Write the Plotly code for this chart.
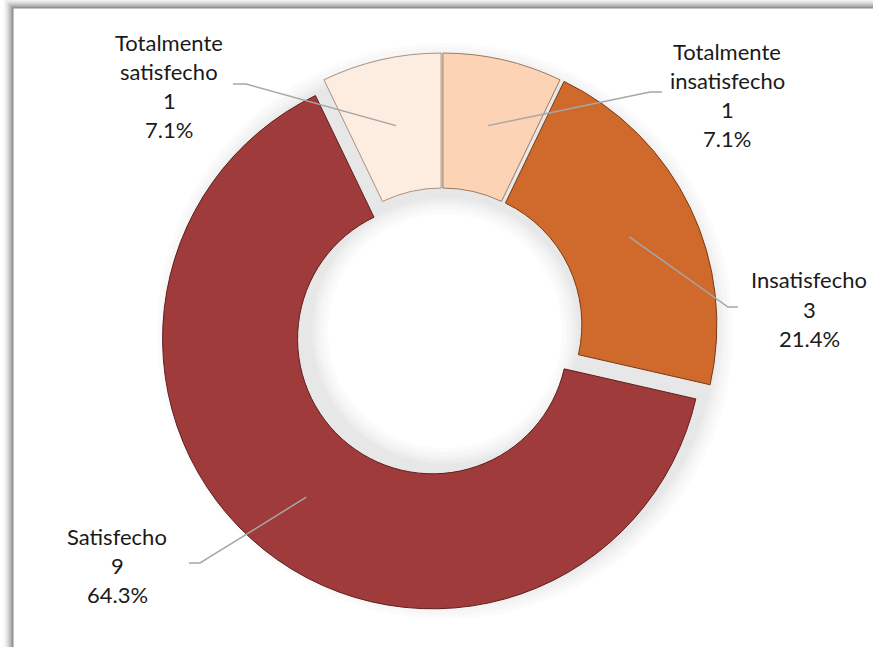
import math
import plotly.graph_objects as go

# ---------------- data ----------------
categories = ["Totalmente insatisfecho", "Insatisfecho", "Satisfecho", "Totalmente satisfecho"]
label_lines = [["Totalmente", "insatisfecho"], ["Insatisfecho"], ["Satisfecho"], ["Totalmente", "satisfecho"]]
values = [1, 3, 9, 1]
colors = ["#FCD3B4", "#D06A2C", "#A03B3B", "#FDECE0"]
edge_colors = ["#9c7a62", "#7a3a12", "#5e1f1f", "#a89282"]
pulls = [0.015, 0.02, 0.056, 0.015]

# ---------------- layout geometry (pixels) ----------------
W, H = 873, 647
CX, CY = 442, 327          # pie centre
R = 270                    # outer radius
HOLE = 0.5
max_pull = max(pulls)
half_box = R * (1 + max_pull)

def px(x):
    return x / W

def py(y):
    return 1 - y / H

fig = go.Figure()

# soft shadow rings behind the doughnut
r_in = R * HOLE
for grow in [18, 14, 10, 7, 4, 2]:
    ro = R + grow
    ri = max(r_in - grow, 1)
    fig.add_trace(go.Pie(
        values=[1], labels=["shadow"], sort=False, hole=ri / ro,
        marker=dict(colors=["rgba(0,0,0,0.016)"], line=dict(width=0)),
        textinfo="none", hoverinfo="skip", showlegend=False,
        domain=dict(x=[px(CX + 3 - ro), px(CX + 3 + ro)],
                    y=[py(CY + 4 + ro), py(CY + 4 - ro)]),
    ))

fig.add_trace(go.Pie(
    labels=categories,
    values=values,
    sort=False,
    direction="clockwise",
    rotation=0,
    hole=HOLE,
    pull=pulls,
    marker=dict(colors=colors, line=dict(color=edge_colors, width=1)),
    textinfo="none",
    hoverinfo="label+value+percent",
    showlegend=False,
    domain=dict(x=[px(CX - half_box - 40), px(CX + half_box + 40)],
                y=[py(CY + half_box), py(CY - half_box)]),
))

# ---------------- frame with shadow ----------------
shapes = []
BX, BY = 13, 8
steps = 10
for i in range(steps):
    g = int(250 - (250 - 150) * (i / (steps - 1)) ** 1.6)
    ox = BX - steps + i + 1
    oy = BY - steps + i + 1
    shapes.append(dict(type="rect", xref="paper", yref="paper", layer="below",
                       x0=px(ox - 1), x1=1.2, y0=-0.2, y1=py(oy - 1),
                       fillcolor=f"rgb({g},{g},{g})", line=dict(width=0)))
shapes.append(dict(type="rect", xref="paper", yref="paper", layer="below",
                   x0=px(BX), x1=1.2, y0=-0.2, y1=py(BY),
                   fillcolor="white", line=dict(color="#8c8c8c", width=1)))

# ---------------- labels with leader lines ----------------
total = sum(values)
label_pos = [(727, 95), (809, 309), (117, 565), (169, 86)]     # text block centres
elbows = [((650, 92), (662, 92)), ((728, 307), (738, 307)),
          ((200, 563), (189, 563)), ((246, 84), (233, 84))]
LINE_H = 29
annotations = []
cum = 0
for i, v in enumerate(values):
    mid = (cum + v / 2) / total * 2 * math.pi
    cum += v
    rr = R * (1 + HOLE) / 2 + pulls[i] * R
    sx = CX + rr * math.sin(mid)
    sy = CY - rr * math.cos(mid)
    (ex, ey), (hx, hy) = elbows[i]
    shapes.append(dict(type="path", xref="paper", yref="paper",
                       path=f"M {px(sx)} {py(sy)} L {px(ex)} {py(ey)} L {px(hx)} {py(hy)}",
                       line=dict(color="#a6a6a6", width=1.5)))
    pct = f"{v / total * 100:.1f}%"
    lines = label_lines[i] + [str(v), pct]
    cx, cy = label_pos[i]
    n = len(lines)
    for k, t in enumerate(lines):
        yk = cy + (k - (n - 1) / 2) * LINE_H
        annotations.append(dict(x=px(cx), y=py(yk), xref="paper", yref="paper",
                                text=t, showarrow=False, xanchor="center", yanchor="middle",
                                font=dict(family="Lato, Noto Sans, sans-serif", size=22, color="#1a1a1a")))

fig.update_layout(
    width=W, height=H,
    margin=dict(l=0, r=0, t=0, b=0),
    paper_bgcolor="white",
    plot_bgcolor="white",
    shapes=shapes,
    annotations=annotations,
)

fig.write_html("out.html",
               config={"displayModeBar": False},
               post_script="document.body.style.margin='0';document.body.style.overflow='hidden';")
